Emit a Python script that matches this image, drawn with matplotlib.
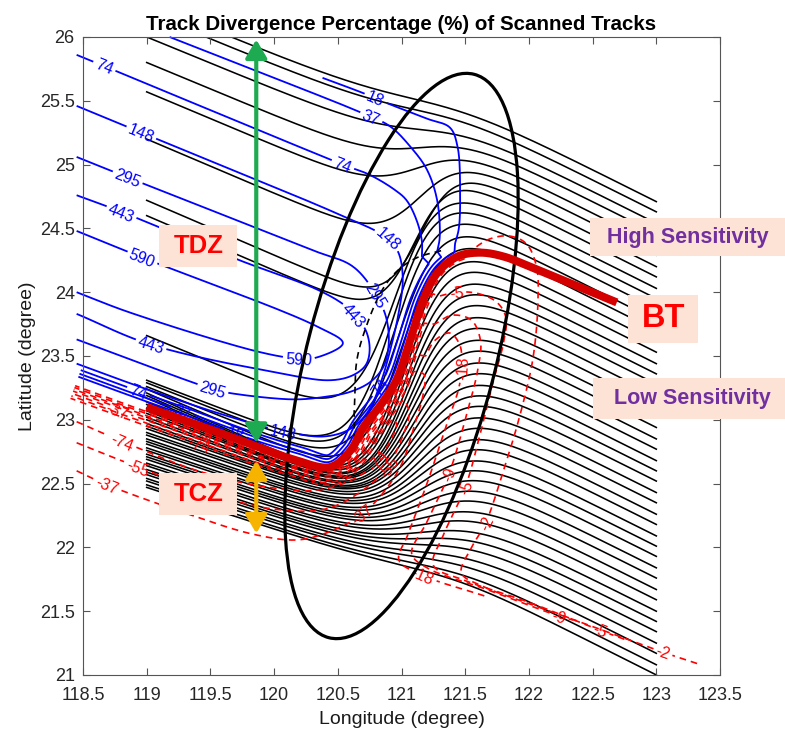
import numpy as np
import matplotlib
matplotlib.use("Agg")
import matplotlib.pyplot as plt
from matplotlib.patches import Ellipse, Rectangle, FancyArrowPatch

plt.rcParams['font.family'] = ['Liberation Sans', 'DejaVu Sans']

# ---------------------------------------------------------------- data
# scanned tracks: latitude at the start (119E) and at the end (123E)
track_start_lat = [26.27, 26.19, 26.00, 25.80, 25.57, 25.20, 24.72, 24.60, 23.66,
                   23.31, 23.29, 23.26, 23.24, 23.21, 23.19, 23.17, 23.14, 23.12,
                   23.09, 23.07, 23.05, 23.02, 23.00, 22.97, 22.95, 22.93, 22.90,
                   22.88, 22.85, 22.83, 22.81, 22.78, 22.76, 22.73, 22.71, 22.69,
                   22.66, 22.64, 22.61, 22.59, 22.57, 22.54, 22.52, 22.49, 22.47]
track_end_lat = [24.71, 24.63, 24.54, 24.46, 24.37, 24.29, 24.20, 24.12, 24.03,
                 23.95, 23.87, 23.78, 23.70, 23.61, 23.53, 23.44, 23.36, 23.28,
                 23.19, 23.11, 23.02, 22.94, 22.85, 22.77, 22.68, 22.60, 22.52,
                 22.43, 22.35, 22.26, 22.18, 22.09, 22.01, 21.93, 21.84, 21.76,
                 21.67, 21.59, 21.50, 21.42, 21.34, 21.25, 21.17, 21.08, 21.00]
track_lon_start, track_lon_end = 119.0, 123.0
# shape of the recurvature, read on a few reference tracks
guide_track = [0, 2, 4, 6, 7, 8, 9, 11, 13, 16, 20, 26, 34, 44]
guide_west_slope = [0.41, 0.41, 0.42, 0.43, 0.43, 0.41, 0.38, 0.40, 0.45, 0.42, 0.38, 0.34, 0.33, 0.33]
guide_turn_lon = [121.2, 121.2, 121.15, 121.15, 121.1, 120.95, 120.93, 120.97, 121.02, 121.06, 121.1, 121.15, 121.2, 121.3]
guide_turn_width = [0.30, 0.25, 0.20, 0.14, 0.14, 0.17, 0.17, 0.17, 0.17, 0.17, 0.18, 0.20, 0.23, 0.30]
east_slope = 0.5

# best track
bt_lon = [119.0, 119.4, 119.84, 120.15, 120.44, 120.6, 120.7, 120.84, 120.96, 121.07,
          121.17, 121.28, 121.44, 121.62, 121.8, 122.01, 122.35, 122.69]
bt_lat = [23.10, 22.96, 22.80, 22.69, 22.63, 22.76, 22.94, 23.12, 23.31, 23.63,
          23.94, 24.15, 24.28, 24.31, 24.28, 24.20, 24.06, 23.92]
# best-track corridor used by the contours that hug the track
side_lon = [121.44, 121.36, 121.28, 121.17, 121.07, 120.96, 120.84, 120.7, 120.6,
            120.44, 120.2, 119.84, 119.4, 119.0, 118.45]
side_lat = [24.28, 24.23, 24.15, 23.94, 23.63, 23.31, 23.12, 22.94, 22.76,
            22.63, 22.69, 22.80, 22.96, 23.10, 23.30]

# positive divergence contours (blue): level -> (lon, lat, corridor offset, label spots)
blue_contours = {
    590: ([118.45, 118.97, 120.34, 120.54, 120.34, 120.19, 119.89, 118.87, 118.45],
          [24.48, 24.27, 23.73, 23.60, 23.49, 23.48, 23.53, 23.84, 24.00],
          None, [(118.97, 24.27), (120.19, 23.48)]),
    443: ([118.45, 118.8, 119.73, 120.34, 120.55, 120.63, 120.72, 120.75, 120.72, 120.62, 120.44, 120.02, 119.03, 118.45],
          [24.76, 24.63, 24.25, 24.02, 23.90, 23.82, 23.70, 23.55, 23.43, 23.35, 23.31, 23.37, 23.59, 23.83],
          None, [(118.8, 24.63), (120.63, 23.82), (119.03, 23.59)]),
    295: ([118.45, 118.85, 120.3, 120.62, 120.8, 120.88, 120.9, 120.86, 120.76, 120.6, 120.4, 120.15, 119.65, 119.52, 118.45],
          [25.06, 24.90, 24.33, 24.20, 23.98, 23.80, 23.60, 23.42, 23.30, 23.22, 23.18, 23.16, 23.21, 23.24, 23.63],
          None, [(118.85, 24.90), (120.8, 23.97), (119.52, 23.24)]),
    148: ([118.45, 118.96, 120.3, 120.6, 120.78, 120.9, 120.98, 121.01, 120.98, 120.92, 120.84, 120.74, 120.6, 120.4, 120.07, 119.6, 119.0, 118.45],
          [25.46, 25.25, 24.70, 24.57, 24.49, 24.42, 24.30, 24.10, 23.85, 23.58, 23.30, 23.07, 22.93, 22.87, 22.91, 23.04, 23.24, 23.44],
          None, [(118.96, 25.25), (120.9, 24.42), (120.07, 22.91)]),
    74: ([118.45, 118.67, 120.54, 120.75, 120.95, 121.04, 121.12, 121.16, 121.16],
         [25.86, 25.77, 25.00, 24.92, 24.80, 24.72, 24.56, 24.40, 24.28],
         0.095, [(118.67, 25.77), (120.54, 25.0), (120.9, 23.22), (118.93, 23.22)]),
    37: ([119.18, 120.0, 120.7, 120.91, 121.07, 121.2, 121.28, 121.3, 121.28],
         [26.00, 25.68, 25.40, 25.30, 25.14, 24.96, 24.72, 24.43, 24.32],
         0.065, [(120.77, 25.38), (119.28, 23.06)]),
    18: ([120.38, 120.7, 120.89, 121.2, 121.38, 121.44, 121.46, 121.45, 121.42],
         [25.68, 25.56, 25.48, 25.36, 25.29, 25.14, 24.78, 24.50, 24.38],
         0.04, [(120.8, 25.52), (119.69, 22.88)]),
}

# negative divergence contours (red, dashed)
red_contours = {
    -2: ([123.32, 123.05, 122.5, 122.0, 121.65, 121.47, 121.55, 121.66, 121.8, 121.92, 122.03, 122.07, 122.06, 121.98, 121.85, 121.7, 121.58, 121.49],
         [21.09, 21.18, 21.38, 21.56, 21.69, 21.80, 22.00, 22.19, 22.60, 23.00, 23.47, 23.90, 24.20, 24.38, 24.44, 24.42, 24.35, 24.26],
         0.035, [(123.05, 21.18), (121.66, 22.19)]),
    -5: ([122.75, 122.56, 122.0, 121.5, 121.25, 121.33, 121.5, 121.62, 121.72, 121.8, 121.82, 121.75, 121.6, 121.43, 121.3],
         [21.28, 21.35, 21.57, 21.74, 21.86, 22.10, 22.47, 22.90, 23.30, 23.60, 23.80, 23.92, 23.99, 24.00, 23.97],
         0.05, [(122.56, 21.35), (121.5, 22.47), (121.43, 24.0), (119.94, 22.76)]),
    -9: ([122.35, 122.24, 121.7, 121.2, 121.08, 121.2, 121.37, 121.5, 121.6, 121.62, 121.55, 121.4, 121.26],
         [21.43, 21.46, 21.66, 21.84, 21.95, 22.20, 22.57, 23.00, 23.40, 23.62, 23.78, 23.82, 23.75],
         0.065, [(122.24, 21.46), (121.37, 22.57), (119.47, 22.92)]),
    -18: ([121.65, 121.17, 120.98, 121.05, 121.2, 121.35, 121.45, 121.47, 121.46, 121.38, 121.26, 121.19],
          [21.62, 21.78, 21.90, 22.10, 22.50, 22.95, 23.25, 23.41, 23.58, 23.68, 23.62, 23.50],
          0.08, [(121.17, 21.78), (121.47, 23.41)]),
    -37: ([118.45, 118.69, 119.3, 119.85, 120.2, 120.5, 120.69, 120.85, 121.0, 121.1, 121.17, 121.18, 121.13],
          [22.60, 22.49, 22.27, 22.10, 22.06, 22.15, 22.26, 22.42, 22.65, 22.95, 23.20, 23.35, 23.38],
          0.10, [(118.69, 22.49), (120.69, 22.26), (118.78, 23.12)]),
    -55: ([118.45, 118.93, 119.5, 120.0, 120.4, 120.7, 120.89, 121.0, 121.06, 121.03],
          [22.82, 22.63, 22.42, 22.30, 22.30, 22.45, 22.63, 22.85, 23.05, 23.15],
          0.12, [(118.93, 22.63), (120.89, 22.63)]),
    -74: ([118.45, 118.81, 119.4, 119.9, 120.35, 120.65, 120.81, 120.92, 120.96, 120.92],
          [22.985, 22.83, 22.60, 22.48, 22.45, 22.55, 22.68, 22.85, 22.97, 23.01],
          0.14, [(118.81, 22.83), (120.81, 22.68), (119.42, 22.83)]),
}

# zero-divergence line (black, dashed)
zero_lon = [119.0, 119.5, 119.9, 120.2, 120.45, 120.6, 120.63, 120.65, 120.73, 120.85, 120.97, 121.12, 121.33]
zero_lat = [23.10, 22.92, 22.76, 22.66, 22.64, 22.72, 23.10, 23.47, 23.75, 24.02, 24.17, 24.27, 24.33]

# sensitivity ellipse
ell_center = (121.0, 23.5)
ell_major, ell_minor, ell_angle = 4.56, 1.48, 75.5

# zone arrows
arrow_lon = 119.86
tdz_lat = (22.82, 25.98)
tcz_lat = (22.68, 22.11)

x_ticks = [118.5, 119, 119.5, 120, 120.5, 121, 121.5, 122, 122.5, 123, 123.5]
y_ticks = [21, 21.5, 22, 22.5, 23, 23.5, 24, 24.5, 25, 25.5, 26]

# ---------------------------------------------------------------- helpers
def spline(lon, lat, n=24):
    """Centripetal Catmull-Rom curve through the given points."""
    P = np.column_stack([lon, lat]).astype(float)
    ext = np.vstack([2 * P[0] - P[1], P, 2 * P[-1] - P[-2]])
    out = []
    for i in range(1, len(ext) - 2):
        p0, p1, p2, p3 = ext[i - 1], ext[i], ext[i + 1], ext[i + 2]
        t0 = 0.0
        t1 = t0 + np.linalg.norm(p1 - p0) ** 0.5
        t2 = t1 + np.linalg.norm(p2 - p1) ** 0.5
        t3 = t2 + np.linalg.norm(p3 - p2) ** 0.5
        t = np.linspace(t1, t2, n, endpoint=False)[:, None]
        a1 = (t1 - t) / (t1 - t0) * p0 + (t - t0) / (t1 - t0) * p1
        a2 = (t2 - t) / (t2 - t1) * p1 + (t - t1) / (t2 - t1) * p2
        a3 = (t3 - t) / (t3 - t2) * p2 + (t - t2) / (t3 - t2) * p3
        b1 = (t2 - t) / (t2 - t0) * a1 + (t - t0) / (t2 - t0) * a2
        b2 = (t3 - t) / (t3 - t1) * a2 + (t - t1) / (t3 - t1) * a3
        out.append((t2 - t) / (t2 - t1) * b1 + (t - t1) / (t2 - t1) * b2)
    out.append(P[-1:])
    return np.vstack(out)


def offset_curve(pts, dist, side):
    d = np.gradient(pts, axis=0)
    d /= np.hypot(d[:, 0], d[:, 1])[:, None]
    normal = np.column_stack([-d[:, 1], d[:, 0]]) * side
    return pts + dist * normal


def join_corridor(head, corridor):
    i = int(np.argmin(np.hypot(corridor[:, 0] - head[-1, 0], corridor[:, 1] - head[-1, 1])))
    return np.vstack([head, corridor[i + 1:]])


def resample(pts, step=1.0):
    disp = ax.transData.transform(pts)
    s = np.concatenate([[0], np.cumsum(np.hypot(*np.diff(disp, axis=0).T))])
    ss = np.append(np.arange(0, s[-1], step), s[-1])
    return np.column_stack([np.interp(ss, s, pts[:, 0]), np.interp(ss, s, pts[:, 1])])


def labelled_line(pts, color, lw, ls, labels, text, fs, z):
    pts = resample(pts)
    disp = ax.transData.transform(pts)
    s = np.concatenate([[0], np.cumsum(np.hypot(*np.diff(disp, axis=0).T))])
    keep = np.ones(len(pts), bool)
    px_per_pt = fig.dpi / 72.0
    for lx, ly in labels:
        d = ax.transData.transform((lx, ly))
        i = int(np.argmin(np.hypot(disp[:, 0] - d[0], disp[:, 1] - d[1])))
        width = fs * px_per_pt * (0.556 * sum(c.isdigit() for c in text) + 0.333 * text.count('-'))
        keep &= np.abs(s - s[i]) > width / 2 + 2.5
        a, b = max(i - 6, 0), min(i + 6, len(pts) - 1)
        ang = np.degrees(np.arctan2(disp[b, 1] - disp[a, 1], disp[b, 0] - disp[a, 0]))
        if ang > 90:
            ang -= 180
        elif ang < -90:
            ang += 180
        ax.text(pts[i, 0], pts[i, 1], text, color=color, fontsize=fs, rotation=ang,
                rotation_mode='anchor', ha='center', va='center_baseline', zorder=z,
                clip_on=False)
    idx = np.flatnonzero(keep)
    for run in np.split(idx, np.flatnonzero(np.diff(idx) > 1) + 1):
        if len(run) > 1:
            ax.plot(pts[run, 0], pts[run, 1], color=color, lw=lw, ls=ls, zorder=z,
                    clip_on=False, solid_capstyle='butt', dash_capstyle='butt')


# ---------------------------------------------------------------- figure
fig = plt.figure(figsize=(7.85, 7.31), dpi=100)
ax = fig.add_axes([83 / 785, 56 / 731, 637 / 785, 638 / 731])
ax.set_xlim(118.5, 123.5)
ax.set_ylim(21, 26)

# scanned tracks
lon = np.linspace(track_lon_start, track_lon_end, 500)
for k in range(len(track_start_lat)):
    mw = np.interp(k, guide_track, guide_west_slope)
    xc = np.interp(k, guide_track, guide_turn_lon)
    wd = np.interp(k, guide_track, guide_turn_width)
    west = track_start_lat[k] - mw * (lon - track_lon_start)
    east = track_end_lat[k] + east_slope * (track_lon_end - lon)
    blend = 1.0 / (1.0 + np.exp(-(lon - xc) / wd))
    ax.plot(lon, west + blend * (east - west), color='black', lw=1.15, zorder=1)

corridor = spline(side_lon, side_lat)

# divergence contours
for level, (clon, clat, off, labels) in blue_contours.items():
    pts = spline(clon, clat)
    if off is not None:
        pts = join_corridor(pts, offset_curve(corridor, off, -1))
    labelled_line(pts, '#0000ff', 1.3, '-', labels, str(level), 11.5, 2)

for level, (clon, clat, off, labels) in red_contours.items():
    pts = join_corridor(spline(clon, clat), offset_curve(corridor, off, 1))
    labelled_line(pts, '#ff0000', 1.2, (0, (4, 3)), labels, str(level), 11.5, 2)

zero = spline(zero_lon, zero_lat)
ax.plot(zero[:, 0], zero[:, 1], color='black', lw=1.2, ls=(0, (4, 3)), zorder=2)

# sensitivity ellipse
ax.add_patch(Ellipse(ell_center, ell_major, ell_minor, angle=ell_angle, fill=False,
                     edgecolor='black', lw=2.3, zorder=3))

# best track
bt = spline(bt_lon, bt_lat)
ax.plot(bt[:, 0], bt[:, 1], color='#d40000', lw=5.8, solid_capstyle='butt', zorder=4)

# zone arrows
ax.add_patch(FancyArrowPatch((arrow_lon, tdz_lat[0]), (arrow_lon, tdz_lat[1]),
                             arrowstyle='<|-|>,head_length=0.85,head_width=0.5',
                             mutation_scale=13, color='#1eaa50', lw=3.0,
                             shrinkA=0, shrinkB=0, zorder=5))
ax.add_patch(FancyArrowPatch((arrow_lon, tcz_lat[0]), (arrow_lon, tcz_lat[1]),
                             arrowstyle='<|-|>,head_length=0.85,head_width=0.5',
                             mutation_scale=13, color='#f6b400', lw=3.0,
                             shrinkA=0, shrinkB=0, zorder=5))

# annotation boxes
box_color = '#fde3d6'
boxes = [
    ((119.10, 24.20), 0.61, 0.33, 'TDZ', (119.405, 24.365), '#ff0000', 18.5),
    ((119.10, 22.25), 0.61, 0.33, 'TCZ', (119.405, 22.415), '#ff0000', 18.5),
    ((122.48, 24.28), 1.53, 0.30, 'High Sensitivity', (123.245, 24.43), '#7030a0', 15.5),
    ((122.50, 23.01), 1.51, 0.32, 'Low Sensitivity', (123.28, 23.17), '#7030a0', 15.5),
    ((122.78, 23.60), 0.55, 0.38, 'BT', (123.055, 23.79), '#ff0000', 23.5),
]
for (x0, y0), bw, bh, txt, (tx, ty), tc, fs in boxes:
    ax.add_patch(Rectangle((x0, y0), bw, bh, facecolor=box_color, edgecolor='none',
                           zorder=6, clip_on=False))
    ax.text(tx, ty, txt, color=tc, fontsize=fs, fontweight='bold', ha='center',
            va='center', zorder=7, clip_on=False)

# axes styling
ax.set_xticks(x_ticks)
ax.set_xticklabels([f'{v:g}' for v in x_ticks])
ax.set_yticks(y_ticks)
ax.set_yticklabels([f'{v:g}' for v in y_ticks])
ax.tick_params(direction='in', length=5, width=0.8, top=True, right=True,
               labelsize=13.0, color='#555555', labelcolor='#262626')
ax.tick_params(axis='x', pad=9)
ax.tick_params(axis='y', pad=6)
for sp in ax.spines.values():
    sp.set_color('#555555')
    sp.set_linewidth(0.8)
ax.set_xlabel('Longitude (degree)', fontsize=14, color='#1a1a1a', labelpad=5)
ax.set_ylabel('Latitude (degree)', fontsize=14, color='#1a1a1a', labelpad=3)
ax.set_title('Track Divergence Percentage (%) of Scanned Tracks', fontsize=14.8,
             fontweight='bold', pad=5)

fig.savefig('out.png', dpi=100)
